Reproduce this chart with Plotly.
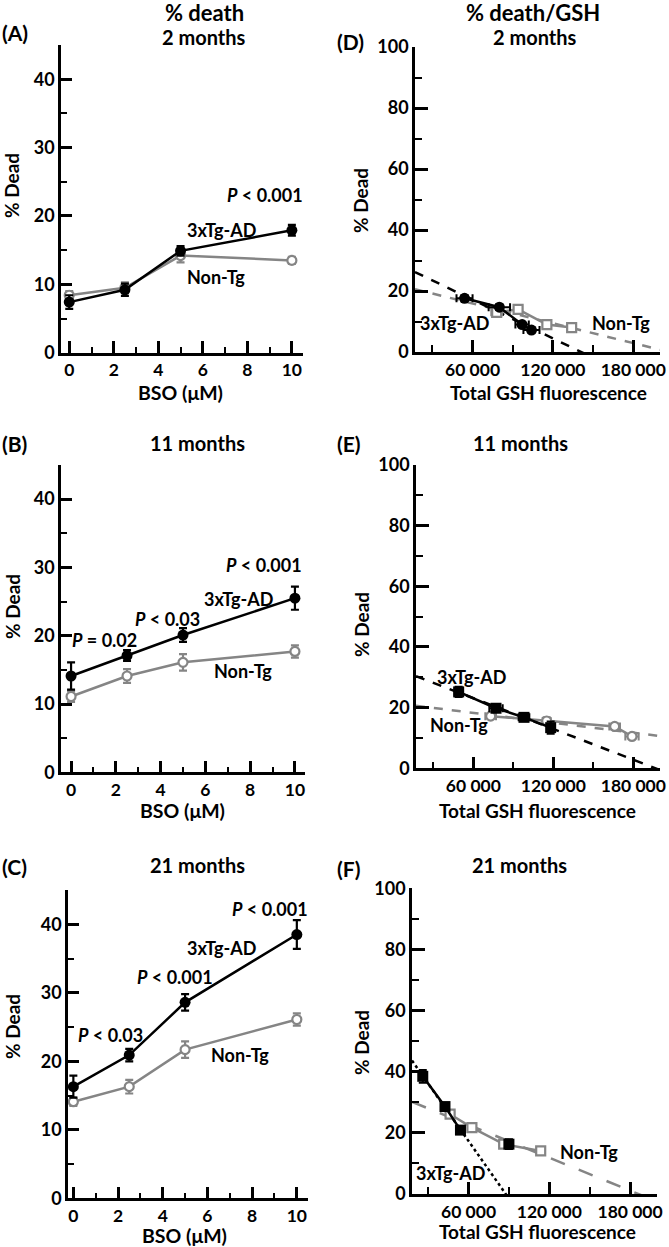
import numpy as np
import plotly.graph_objects as go

W, H = 669, 1247

# ---------------- data ----------------
bso_um = [0, 2.5, 5, 10]
bso_ticks = [0, 2, 4, 6, 8, 10]

# (A) 2 months
a_tg = [7.4, 9.2, 14.9, 17.9]
a_tg_err = [1.0, 0.9, 0.7, 0.8]
a_non = [8.4, 9.5, 14.2, 13.5]
a_non_err = [0.6, 0.8, 1.0, 0.5]
# (B) 11 months
b_tg = [14.1, 17.1, 20.1, 25.5]
b_tg_err = [2.0, 0.8, 1.0, 1.7]
b_non = [11.1, 14.1, 16.1, 17.7]
b_non_err = [0.8, 1.0, 1.2, 0.9]
# (C) 21 months
c_tg = [16.3, 20.9, 28.6, 38.5]
c_tg_err = [1.6, 0.9, 1.2, 2.1]
c_non = [14.1, 16.3, 21.7, 26.1]
c_non_err = [0.6, 1.0, 1.2, 0.9]

gsh_ticks = [60000, 120000, 180000]
gsh_ticktext = ["60 000", "120 000", "180 000"]
gsh_minor = [30000, 90000, 150000]

# (D) 2 months  % dead vs GSH
d_tg_gsh = [54000, 80000, 97000, 104000]
d_tg_gsh_err = [6000, 8000, 5000, 6000]
d_tg_dead = [17.6, 14.7, 9.0, 7.2]
d_tg_dead_err = [1.0, 0.9, 0.7, 0.8]
d_non_gsh = [78000, 94000, 115500, 134000]
d_non_gsh_err = [4000, 3000, 3000, 3000]
d_non_dead = [13.0, 14.0, 9.0, 8.0]
d_non_dead_err = [1.0, 1.0, 0.8, 0.6]
# (E) 11 months
e_tg_gsh = [49000, 77000, 98000, 118000]
e_tg_gsh_err = [3000, 5000, 4000, 2000]
e_tg_dead = [25.2, 19.8, 16.8, 13.4]
e_tg_dead_err = [1.7, 1.0, 0.8, 2.0]
e_non_gsh = [73000, 115000, 166000, 179000]
e_non_gsh_err = [4000, 3000, 4000, 5000]
e_non_dead = [17.2, 15.6, 13.8, 10.5]
e_non_dead_err = [0.9, 1.2, 1.0, 0.8]
# (F) 21 months
f_tg_gsh = [26000, 42500, 54000, 90000]
f_tg_gsh_err = [2000, 2000, 3000, 3000]
f_tg_dead = [38.5, 28.6, 20.9, 16.3]
f_tg_dead_err = [2.1, 1.2, 0.9, 1.6]
f_tg_fit_points = 3          # regression / joined line uses the first 3 points
f_non_gsh = [46300, 62500, 86100, 113600]
f_non_gsh_err = [3000, 3000, 3000, 3000]
f_non_dead = [26.1, 21.7, 16.3, 14.1]
f_non_dead_err = [0.9, 1.2, 1.0, 0.6]

# ---------------- style ----------------
BLACK = "#000000"
GRAY = "#858585"
FONT = "Lato, 'Open Sans', sans-serif"


def fnt(size, color=BLACK):
    return dict(family=FONT, size=size, color=color, weight="bold")


fig = go.Figure()
layout = {}
annotations = []


def names(k):
    xa = "x" if k == 1 else f"x{k}"
    ya = "y" if k == 1 else f"y{k}"
    xl = "xaxis" if k == 1 else f"xaxis{k}"
    yl = "yaxis" if k == 1 else f"yaxis{k}"
    return xa, ya, xl, yl


def axis_common(fsize=18):
    return dict(showline=True, linecolor=BLACK, linewidth=2.5, ticks="inside",
                tickcolor=BLACK, tickwidth=2.5, showgrid=False, zeroline=False,
                tickfont=fnt(fsize), fixedrange=True, automargin=False)


def left_panel(k, tg, tg_err, non, non_err, xpx, ypx, xr):
    xa, ya, xl, yl = names(k)
    fig.add_trace(go.Scatter(
        x=bso_um, y=non, mode="lines+markers", xaxis=xa, yaxis=ya,
        line=dict(color=GRAY, width=2.5),
        marker=dict(symbol="circle", size=9, color="white", line=dict(color=GRAY, width=2.2)),
        error_y=dict(type="data", array=non_err, color=GRAY, thickness=2.2, width=4)))
    fig.add_trace(go.Scatter(
        x=bso_um, y=tg, mode="lines+markers", xaxis=xa, yaxis=ya,
        line=dict(color=BLACK, width=2.5),
        marker=dict(symbol="circle", size=11, color=BLACK),
        error_y=dict(type="data", array=tg_err, color=BLACK, thickness=2.2, width=4)))
    ax = axis_common(17.5)
    ax.update(domain=[xpx[0] / W, xpx[1] / W], range=xr, anchor=ya,
              tickmode="linear", tick0=0, dtick=2, ticklen=12,
              minor=dict(ticks="inside", tick0=0, dtick=1, ticklen=6, tickwidth=2, tickcolor=BLACK))
    layout[xl] = ax
    ay = axis_common()
    ay.update(domain=[1 - ypx[1] / H, 1 - ypx[0] / H], range=[0, 45], anchor=xa,
              tickmode="linear", tick0=0, dtick=10, ticklen=11,
              minor=dict(ticks="inside", tick0=0, dtick=5, ticklen=6, tickwidth=2, tickcolor=BLACK))
    layout[yl] = ay


def fit_line(k, gx, gy, n, xr, color, dash, width):
    xa, ya, _, _ = names(k)
    slope, icpt = np.polyfit(np.array(gx[:n], float), np.array(gy[:n], float), 1)
    xs = np.array([xr[0], xr[1]])
    fig.add_trace(go.Scatter(x=xs, y=slope * xs + icpt, mode="lines", xaxis=xa, yaxis=ya,
                             line=dict(color=color, width=width, dash=dash)))


def right_panel(k, tg, non, xpx, ypx, xr, tg_sym, non_sym, tg_dash, non_dash, tg_n=4):
    xa, ya, xl, yl = names(k)
    tgx, tgxe, tgy, tgye = tg
    nx, nxe, ny, nye = non
    fit_line(k, nx, ny, 4, xr, GRAY, non_dash, 2.5)
    fit_line(k, tgx, tgy, tg_n, xr, BLACK, tg_dash, 2.5)
    fig.add_trace(go.Scatter(
        x=nx, y=ny, mode="lines+markers", xaxis=xa, yaxis=ya,
        line=dict(color=GRAY, width=2.5),
        marker=dict(symbol=non_sym, size=9, color="white", line=dict(color=GRAY, width=2.2)),
        error_x=dict(type="data", array=nxe, color=GRAY, thickness=2, width=4),
        error_y=dict(type="data", array=nye, color=GRAY, thickness=2, width=4)))
    fig.add_trace(go.Scatter(
        x=tgx[:tg_n], y=tgy[:tg_n], mode="lines", xaxis=xa, yaxis=ya,
        line=dict(color=BLACK, width=2.5)))
    fig.add_trace(go.Scatter(
        x=tgx, y=tgy, mode="markers", xaxis=xa, yaxis=ya,
        marker=dict(symbol=tg_sym, size=11, color=BLACK),
        error_x=dict(type="data", array=tgxe, color=BLACK, thickness=2, width=4),
        error_y=dict(type="data", array=tgye, color=BLACK, thickness=2, width=4)))
    ax = axis_common(17.5)
    ax.update(domain=[xpx[0] / W, xpx[1] / W], range=xr, anchor=ya,
              tickmode="array", tickvals=gsh_ticks, ticktext=gsh_ticktext, ticklen=12,
              minor=dict(ticks="inside", tickvals=gsh_minor, ticklen=7, tickwidth=2, tickcolor=BLACK))
    layout[xl] = ax
    ay = axis_common()
    ay.update(domain=[1 - ypx[1] / H, 1 - ypx[0] / H], range=[0, 100], anchor=xa,
              tickmode="linear", tick0=0, dtick=20, ticklen=13,
              minor=dict(ticks="inside", tick0=0, dtick=10, ticklen=7, tickwidth=2, tickcolor=BLACK))
    layout[yl] = ay


left_panel(1, a_tg, a_tg_err, a_non, a_non_err, (61, 303), (45, 352.7), [-0.37, 10.5])
left_panel(2, b_tg, b_tg_err, b_non, b_non_err, (61, 305), (465, 772.3), [-0.45, 10.45])
left_panel(3, c_tg, c_tg_err, c_non, c_non_err, (68, 308), (890, 1198.3), [-0.24, 10.5])

right_panel(4, (d_tg_gsh, d_tg_gsh_err, d_tg_dead, d_tg_dead_err),
            (d_non_gsh, d_non_gsh_err, d_non_dead, d_non_dead_err),
            (415, 660), (47, 352), [17000, 200000], "circle", "square", "dash", "dash")
right_panel(5, (e_tg_gsh, e_tg_gsh_err, e_tg_dead, e_tg_dead_err),
            (e_non_gsh, e_non_gsh_err, e_non_dead, e_non_dead_err),
            (416, 660), (465, 768.3), [17000, 200000], "square", "circle", "dash", "dash")
right_panel(6, (f_tg_gsh, f_tg_gsh_err, f_tg_dead, f_tg_dead_err),
            (f_non_gsh, f_non_gsh_err, f_non_dead, f_non_dead_err),
            (412, 657), (888.3, 1194), [18000, 200000], "square", "square", "dot", "longdash",
            tg_n=f_tg_fit_points)


def ann_data(k, text, x, y, size=18):
    xa, ya, _, _ = names(k)
    annotations.append(dict(text=text, x=x, y=y, xref=xa, yref=ya, showarrow=False,
                            font=fnt(size), xanchor="center", yanchor="middle"))


def ann_px(text, px, py, size=20, angle=0, xanchor="center"):
    annotations.append(dict(text=text, x=px / W, y=1 - py / H, xref="paper", yref="paper",
                            showarrow=False, font=fnt(size), xanchor=xanchor, yanchor="middle",
                            textangle=angle))


P001 = "<i>P</i> &lt; 0.001"
P003 = "<i>P</i> &lt; 0.03"
P002 = "<i>P</i> = 0.02"

ann_data(1, P001, 8.8, 23.0)
ann_data(1, "3xTg-AD", 6.85, 17.9)
ann_data(1, "Non-Tg", 6.6, 11.1)

ann_data(2, P002, 1.5, 19.4)
ann_data(2, P003, 4.3, 22.4)
ann_data(2, P001, 8.6, 30.3)
ann_data(2, "3xTg-AD", 7.5, 25.4)
ann_data(2, "Non-Tg", 7.7, 14.8)

ann_data(3, P003, 1.64, 23.8)
ann_data(3, P001, 4.56, 32.3)
ann_data(3, P001, 8.8, 42.3)
ann_data(3, "3xTg-AD", 6.65, 36.5)
ann_data(3, "Non-Tg", 7.45, 20.9)

ann_data(4, "3xTg-AD", 46700, 9.4)
ann_data(4, "Non-Tg", 170500, 9.5)
ann_data(5, "3xTg-AD", 59000, 30.2)
ann_data(5, "Non-Tg", 49300, 14.3)
ann_data(6, "3xTg-AD", 46400, 6.8)
ann_data(6, "Non-Tg", 149600, 13.8)

# titles and panel letters
ann_px("% death", 204, 12, 22)
ann_px("2 months", 204, 37, 20)
ann_px("% death/GSH", 533, 12, 22)
ann_px("2 months", 535, 37, 20)
ann_px("11 months", 197, 443, 20)
ann_px("11 months", 520, 443, 20)
ann_px("21 months", 197, 865, 20)
ann_px("21 months", 519, 865, 20)

ann_px("(A)", 0, 33, 21, xanchor="left")
ann_px("(B)", 0, 443, 21, xanchor="left")
ann_px("(C)", 0, 866, 21, xanchor="left")
ann_px("(D)", 335, 42, 21, xanchor="left")
ann_px("(E)", 335, 443, 21, xanchor="left")
ann_px("(F)", 335, 868, 21, xanchor="left")

# axis titles
for py in (186, 607, 1027):
    ann_px("% Dead", 12, py, 19, angle=-90)
for py in (201, 625, 1043):
    ann_px("% Dead", 361, py, 19, angle=-90)
ann_px("BSO (μM)", 180, 392, 19.5)
ann_px("BSO (μM)", 182, 810, 19.5)
ann_px("BSO (μM)", 184, 1235, 19.5)
ann_px("Total GSH fluorescence", 548, 392, 19)
ann_px("Total GSH fluorescence", 537, 811, 19)
ann_px("Total GSH fluorescence", 537, 1231, 19)

fig.update_layout(width=W, height=H, margin=dict(l=0, r=0, t=0, b=0, autoexpand=False),
                  paper_bgcolor="white", plot_bgcolor="white", showlegend=False,
                  annotations=annotations, **layout)

fig.write_html("out.html", config={"displayModeBar": False},
               post_script="document.body.style.margin='0px';")
